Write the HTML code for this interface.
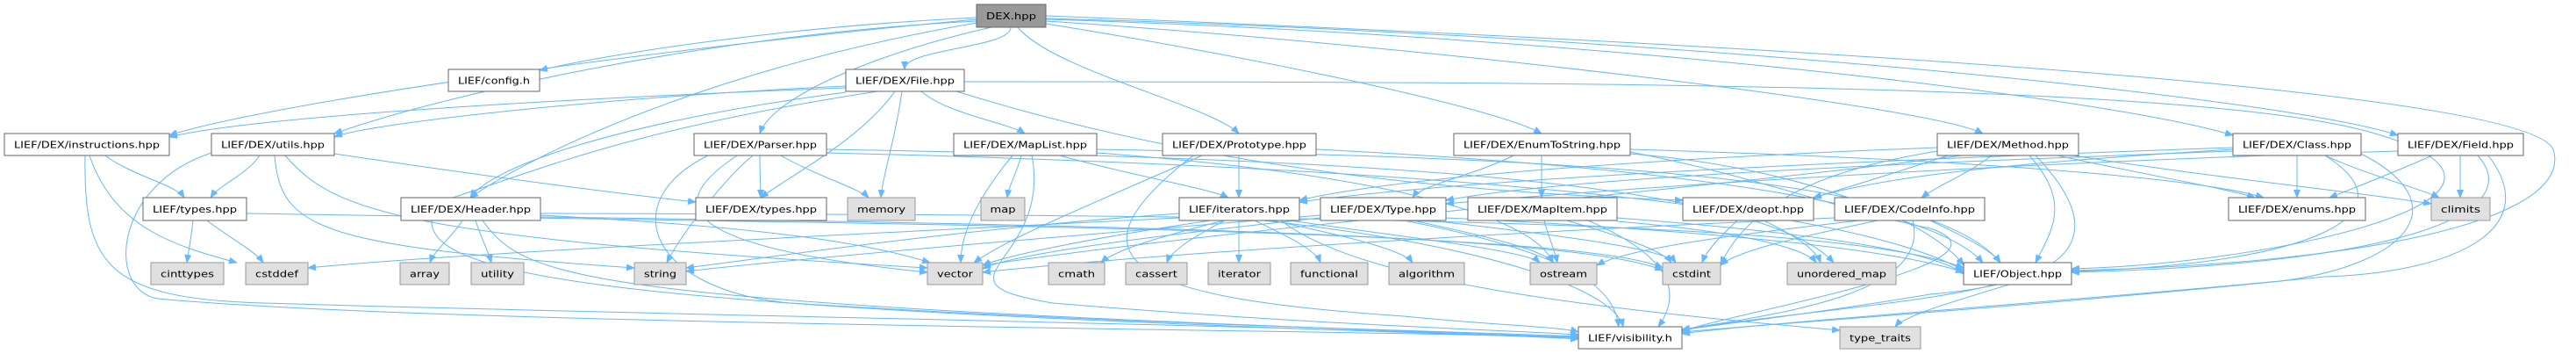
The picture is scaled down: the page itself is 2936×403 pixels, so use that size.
<!DOCTYPE html>
<html><head><meta charset="utf-8"><style>
html,body{margin:0;padding:0;background:#fff;}
svg{display:block;}
text{font-family:"DejaVu Sans","Liberation Sans",sans-serif;font-size:11px;fill:#000;}
.e{fill:none;stroke:#63b8ff;stroke-width:1;}
.n{fill:#fff;stroke:#666;stroke-width:1;}
.g{fill:#e0e0e0;stroke:#999;stroke-width:1;}
.r{fill:#999;stroke:#666;stroke-width:1;}
</style></head><body>
<svg width="2936" height="403" viewBox="0 0 2936 403" xmlns="http://www.w3.org/2000/svg">
<defs><marker id="a" markerWidth="10" markerHeight="8" refX="9" refY="4" orient="auto" markerUnits="userSpaceOnUse"><path d="M0,0 L10,4 L0,8 z" fill="#63b8ff"/></marker></defs>
<g class="e" marker-end="url(#a)">
<path d="M1113 20 C900 30 700 60 615 80"/>
<path d="M1152 31 C1152 55 1031 55 1031 79"/>
<path d="M1113 24 C800 40 500 110 381 152"/>
<path d="M1113 22 C700 60 300 120 193 154"/>
<path d="M1130 31 C1000 60 880 110 866 152"/>
<path d="M1113 26 C800 80 600 180 536 225"/>
<path d="M1160 31 C1200 80 1380 120 1412 152"/>
<path d="M1192 27 C1400 60 1700 120 1757 152"/>
<path d="M1192 24 C1600 50 2200 120 2260 152"/>
<path d="M1192 22 C1800 40 2400 110 2545 154"/>
<path d="M1192 21 C1900 40 2600 110 2733 154"/>
<path d="M1192 18 C2000 50 2880 100 2910 170 C2935 250 2700 300 2361 308"/>
<path d="M964 100 C700 110 300 130 193 156"/>
<path d="M964 98 C700 110 420 140 381 156"/>
<path d="M964 105 C700 140 560 190 536 225"/>
<path d="M1020 104 C980 160 900 200 867 225"/>
<path d="M1028 104 C1020 160 1006 200 1004 225"/>
<path d="M1050 104 C1080 130 1150 140 1168 152"/>
<path d="M1000 104 C700 150 600 200 500 230 C440 320 700 350 1799 385"/>
<path d="M1099 93 C1800 93 2500 95 2700 150 C2950 220 2600 300 2361 306"/>
<path d="M1090 104 C1400 200 1700 220 1918 228"/>
<path d="M120 177 C150 200 200 210 210 225"/>
<path d="M102 177 C130 260 200 280 270 299"/>
<path d="M97 177 C95 300 120 340 300 345 C800 360 1500 370 1799 386"/>
<path d="M296 177 C280 200 250 210 240 225"/>
<path d="M241 174 C130 210 120 330 180 340 C500 370 1500 375 1799 384"/>
<path d="M313 177 C320 260 360 280 723 305"/>
<path d="M325 177 C380 240 450 270 1057 305"/>
<path d="M381 175 C550 200 700 220 793 230"/>
<path d="M220 251 C218 270 215 285 213 299"/>
<path d="M236 251 C260 270 290 285 300 299"/>
<path d="M281 243 C1000 255 1800 260 1895 305"/>
<path d="M527 251 C515 270 495 285 490 299"/>
<path d="M542 251 C548 270 556 285 560 299"/>
<path d="M550 251 C600 320 660 345 1799 384"/>
<path d="M616 243 C1500 245 2100 250 2238 305"/>
<path d="M616 245 C900 260 1000 280 1060 299"/>
<path d="M616 247 C1200 255 1800 265 1895 308"/>
<path d="M866 177 C866 200 867 210 867 225"/>
<path d="M890 177 C930 200 980 215 990 225"/>
<path d="M858 177 C830 200 780 260 760 299"/>
<path d="M840 177 C760 230 760 280 1057 310"/>
<path d="M807 177 C700 230 740 330 900 345 C1300 370 1600 375 1799 383"/>
<path d="M942 170 C1500 180 2000 200 2090 299"/>
<path d="M942 174 C1600 190 2100 230 2238 308"/>
<path d="M1164 177 C1158 200 1150 210 1148 225"/>
<path d="M1154 177 C1110 230 1095 270 1095 299"/>
<path d="M1208 177 C1290 200 1380 215 1400 225"/>
<path d="M1176 177 C1200 300 1050 320 1200 345 C1500 370 1700 375 1799 381"/>
<path d="M1250 170 C1800 180 2200 200 2280 299"/>
<path d="M1250 174 C1600 200 1750 250 1770 299"/>
<path d="M1412 177 C1412 200 1412 210 1412 225"/>
<path d="M1370 177 C1250 230 1150 270 1110 299"/>
<path d="M1500 170 C1900 190 2200 230 2260 299"/>
<path d="M1360 177 C1200 300 1300 340 1600 360 C1700 370 1780 372 1799 378"/>
<path d="M1725 177 C1680 200 1620 210 1610 225"/>
<path d="M1757 177 C1757 200 1757 210 1757 225"/>
<path d="M1858 170 C2200 180 2500 200 2580 225"/>
<path d="M1858 173 C2000 200 2100 240 2200 260 C2320 300 1950 360 1917 378"/>
<path d="M1858 175 C2050 190 2200 250 2238 302"/>
<path d="M2208 168 C1900 180 1600 200 1481 228"/>
<path d="M2220 177 C2150 200 2100 215 2067 225"/>
<path d="M2270 177 C2240 200 2210 210 2190 225"/>
<path d="M2345 177 C2450 200 2540 215 2570 225"/>
<path d="M2345 174 C2500 200 2700 220 2771 232"/>
<path d="M2313 177 C2360 230 2340 260 2320 299"/>
<path d="M2320 177 C2400 260 2380 320 2200 335 C2050 360 1950 370 1917 376"/>
<path d="M2236 177 C1900 220 1400 260 1120 302"/>
<path d="M2208 172 C2100 190 2000 220 1961 301"/>
<path d="M2545 170 C2300 185 2150 200 2067 225"/>
<path d="M2545 168 C2200 180 1700 200 1481 230"/>
<path d="M2618 177 C2618 200 2618 210 2618 225"/>
<path d="M2650 177 C2700 200 2760 215 2780 225"/>
<path d="M2650 177 C2750 240 2650 300 2361 309"/>
<path d="M2691 175 C2800 230 2750 300 2600 320 C2300 350 2000 370 1917 378"/>
<path d="M2545 172 C2200 185 1800 200 1648 228"/>
<path d="M2772 177 C2720 200 2680 215 2655 225"/>
<path d="M2804 177 C2804 200 2804 210 2804 225"/>
<path d="M2824 177 C2880 240 2750 300 2361 310"/>
<path d="M2836 177 C2900 260 2800 310 2650 315 C2400 340 2000 368 1917 380"/>
<path d="M2733 172 C2300 185 1900 210 1648 232"/>
<path d="M1380 251 C1250 270 1150 290 1120 302"/>
<path d="M1395 251 C1320 270 1270 285 1255 299"/>
<path d="M1396 251 C1360 270 1335 285 1330 299"/>
<path d="M1412 251 C1412 270 1412 285 1412 299"/>
<path d="M1430 251 C1470 270 1500 285 1505 299"/>
<path d="M1450 251 C1540 270 1600 285 1610 299"/>
<path d="M1470 251 C1600 270 1740 285 1755 299"/>
<path d="M1460 251 C1550 320 1800 350 2097 376"/>
<path d="M1440 251 C1700 280 1840 330 1850 372"/>
<path d="M1344 243 C1100 260 900 290 782 305"/>
<path d="M1344 248 C900 270 500 290 351 305"/>
<path d="M1610 251 C1700 270 1760 285 1770 299"/>
<path d="M1630 251 C1800 270 1900 285 1910 299"/>
<path d="M1600 251 C1800 290 1840 330 1845 372"/>
<path d="M1648 248 C1900 260 2150 280 2238 310"/>
<path d="M1505 248 C1300 270 1150 290 1120 306"/>
<path d="M1505 245 C1200 270 900 295 782 309"/>
<path d="M1760 251 C1765 270 1772 285 1775 299"/>
<path d="M1786 251 C1850 270 1895 285 1905 299"/>
<path d="M1810 251 C1900 290 1920 330 1890 372"/>
<path d="M1843 248 C2000 260 2200 280 2238 312"/>
<path d="M1843 252 C2000 265 2060 285 2070 299"/>
<path d="M1980 251 C1960 270 1945 285 1940 299"/>
<path d="M2010 251 C2050 270 2070 285 2075 299"/>
<path d="M2120 251 C1950 270 1850 285 1820 302"/>
<path d="M2140 251 C2050 270 1980 285 1961 302"/>
<path d="M2200 251 C2240 270 2270 285 2280 299"/>
<path d="M2180 251 C2200 330 2050 355 1917 375"/>
<path d="M2091 248 C1700 265 1300 290 1120 310"/>
<path d="M2272 324 C2200 345 2000 360 1917 376"/>
<path d="M2290 324 C2220 345 2170 360 2160 372"/>
</g>
<g>
<rect class="r" x="1113" y="5" width="79" height="26"/><text x="1152.5" y="22" text-anchor="middle" textLength="57" lengthAdjust="spacingAndGlyphs">DEX.hpp</text>
<rect class="n" x="511" y="79" width="104" height="25"/><text x="563" y="95.5" text-anchor="middle" textLength="82" lengthAdjust="spacingAndGlyphs">LIEF/config.h</text>
<rect class="n" x="964" y="79" width="135" height="25"/><text x="1031.5" y="95.5" text-anchor="middle" textLength="113" lengthAdjust="spacingAndGlyphs">LIEF/DEX/File.hpp</text>
<rect class="n" x="5" y="152" width="188" height="25"/><text x="99" y="168.5" text-anchor="middle" textLength="166" lengthAdjust="spacingAndGlyphs">LIEF/DEX/instructions.hpp</text>
<rect class="n" x="241" y="152" width="140" height="25"/><text x="311" y="168.5" text-anchor="middle" textLength="118" lengthAdjust="spacingAndGlyphs">LIEF/DEX/utils.hpp</text>
<rect class="n" x="791" y="152" width="151" height="25"/><text x="866.5" y="168.5" text-anchor="middle" textLength="129" lengthAdjust="spacingAndGlyphs">LIEF/DEX/Parser.hpp</text>
<rect class="n" x="1087" y="152" width="163" height="25"/><text x="1168.5" y="168.5" text-anchor="middle" textLength="141" lengthAdjust="spacingAndGlyphs">LIEF/DEX/MapList.hpp</text>
<rect class="n" x="1325" y="152" width="175" height="25"/><text x="1412.5" y="168.5" text-anchor="middle" textLength="153" lengthAdjust="spacingAndGlyphs">LIEF/DEX/Prototype.hpp</text>
<rect class="n" x="1657" y="152" width="201" height="25"/><text x="1757.5" y="168.5" text-anchor="middle" textLength="179" lengthAdjust="spacingAndGlyphs">LIEF/DEX/EnumToString.hpp</text>
<rect class="n" x="2208" y="152" width="161" height="25"/><text x="2288.5" y="168.5" text-anchor="middle" textLength="139" lengthAdjust="spacingAndGlyphs">LIEF/DEX/Method.hpp</text>
<rect class="n" x="2545" y="152" width="146" height="25"/><text x="2618" y="168.5" text-anchor="middle" textLength="124" lengthAdjust="spacingAndGlyphs">LIEF/DEX/Class.hpp</text>
<rect class="n" x="2733" y="152" width="143" height="25"/><text x="2804.5" y="168.5" text-anchor="middle" textLength="121" lengthAdjust="spacingAndGlyphs">LIEF/DEX/Field.hpp</text>
<rect class="n" x="163" y="225" width="118" height="26"/><text x="222" y="242" text-anchor="middle" textLength="96" lengthAdjust="spacingAndGlyphs">LIEF/types.hpp</text>
<rect class="n" x="457" y="225" width="159" height="26"/><text x="536.5" y="242" text-anchor="middle" textLength="137" lengthAdjust="spacingAndGlyphs">LIEF/DEX/Header.hpp</text>
<rect class="n" x="793" y="225" width="149" height="26"/><text x="867.5" y="242" text-anchor="middle" textLength="127" lengthAdjust="spacingAndGlyphs">LIEF/DEX/types.hpp</text>
<rect class="g" x="966" y="225" width="77" height="26"/><text x="1004.5" y="242" text-anchor="middle" textLength="55" lengthAdjust="spacingAndGlyphs">memory</text>
<rect class="g" x="1118" y="225" width="50" height="26"/><text x="1143" y="242" text-anchor="middle" textLength="29" lengthAdjust="spacingAndGlyphs">map</text>
<rect class="n" x="1344" y="225" width="137" height="26"/><text x="1412.5" y="242" text-anchor="middle" textLength="115" lengthAdjust="spacingAndGlyphs">LIEF/iterators.hpp</text>
<rect class="n" x="1505" y="225" width="143" height="26"/><text x="1576.5" y="242" text-anchor="middle" textLength="121" lengthAdjust="spacingAndGlyphs">LIEF/DEX/Type.hpp</text>
<rect class="n" x="1673" y="225" width="170" height="26"/><text x="1758" y="242" text-anchor="middle" textLength="148" lengthAdjust="spacingAndGlyphs">LIEF/DEX/MapItem.hpp</text>
<rect class="n" x="1918" y="225" width="149" height="26"/><text x="1992.5" y="242" text-anchor="middle" textLength="127" lengthAdjust="spacingAndGlyphs">LIEF/DEX/deopt.hpp</text>
<rect class="n" x="2091" y="225" width="171" height="26"/><text x="2176.5" y="242" text-anchor="middle" textLength="149" lengthAdjust="spacingAndGlyphs">LIEF/DEX/CodeInfo.hpp</text>
<rect class="n" x="2540" y="225" width="156" height="26"/><text x="2618" y="242" text-anchor="middle" textLength="134" lengthAdjust="spacingAndGlyphs">LIEF/DEX/enums.hpp</text>
<rect class="g" x="2771" y="225" width="67" height="26"/><text x="2804.5" y="242" text-anchor="middle" textLength="45" lengthAdjust="spacingAndGlyphs">climits</text>
<rect class="g" x="172" y="299" width="83" height="25"/><text x="213.5" y="315.5" text-anchor="middle" textLength="61" lengthAdjust="spacingAndGlyphs">cinttypes</text>
<rect class="g" x="280" y="299" width="71" height="25"/><text x="315.5" y="315.5" text-anchor="middle" textLength="49" lengthAdjust="spacingAndGlyphs">cstddef</text>
<rect class="g" x="456" y="299" width="56" height="25"/><text x="484" y="315.5" text-anchor="middle" textLength="34" lengthAdjust="spacingAndGlyphs">array</text>
<rect class="g" x="537" y="299" width="60" height="25"/><text x="567" y="315.5" text-anchor="middle" textLength="38" lengthAdjust="spacingAndGlyphs">utility</text>
<rect class="g" x="723" y="299" width="59" height="25"/><text x="752.5" y="315.5" text-anchor="middle" textLength="37" lengthAdjust="spacingAndGlyphs">string</text>
<rect class="g" x="1057" y="299" width="63" height="25"/><text x="1088.5" y="315.5" text-anchor="middle" textLength="41" lengthAdjust="spacingAndGlyphs">vector</text>
<rect class="g" x="1195" y="299" width="64" height="25"/><text x="1227" y="315.5" text-anchor="middle" textLength="42" lengthAdjust="spacingAndGlyphs">cmath</text>
<rect class="g" x="1283" y="299" width="70" height="25"/><text x="1318" y="315.5" text-anchor="middle" textLength="48" lengthAdjust="spacingAndGlyphs">cassert</text>
<rect class="g" x="1377" y="299" width="71" height="25"/><text x="1412.5" y="315.5" text-anchor="middle" textLength="49" lengthAdjust="spacingAndGlyphs">iterator</text>
<rect class="g" x="1471" y="299" width="88" height="25"/><text x="1515" y="315.5" text-anchor="middle" textLength="66" lengthAdjust="spacingAndGlyphs">functional</text>
<rect class="g" x="1583" y="299" width="86" height="25"/><text x="1626" y="315.5" text-anchor="middle" textLength="64" lengthAdjust="spacingAndGlyphs">algorithm</text>
<rect class="g" x="1744" y="299" width="76" height="25"/><text x="1782" y="315.5" text-anchor="middle" textLength="54" lengthAdjust="spacingAndGlyphs">ostream</text>
<rect class="g" x="1895" y="299" width="66" height="25"/><text x="1928" y="315.5" text-anchor="middle" textLength="44" lengthAdjust="spacingAndGlyphs">cstdint</text>
<rect class="g" x="2037" y="299" width="124" height="25"/><text x="2099" y="315.5" text-anchor="middle" textLength="102" lengthAdjust="spacingAndGlyphs">unordered_map</text>
<rect class="n" x="2238" y="299" width="123" height="25"/><text x="2299.5" y="315.5" text-anchor="middle" textLength="101" lengthAdjust="spacingAndGlyphs">LIEF/Object.hpp</text>
<rect class="n" x="1799" y="372" width="118" height="25"/><text x="1858" y="388.5" text-anchor="middle" textLength="96" lengthAdjust="spacingAndGlyphs">LIEF/visibility.h</text>
<rect class="g" x="2097" y="372" width="92" height="25"/><text x="2143" y="388.5" text-anchor="middle" textLength="70" lengthAdjust="spacingAndGlyphs">type_traits</text>
</g>
</svg>
</body></html>
